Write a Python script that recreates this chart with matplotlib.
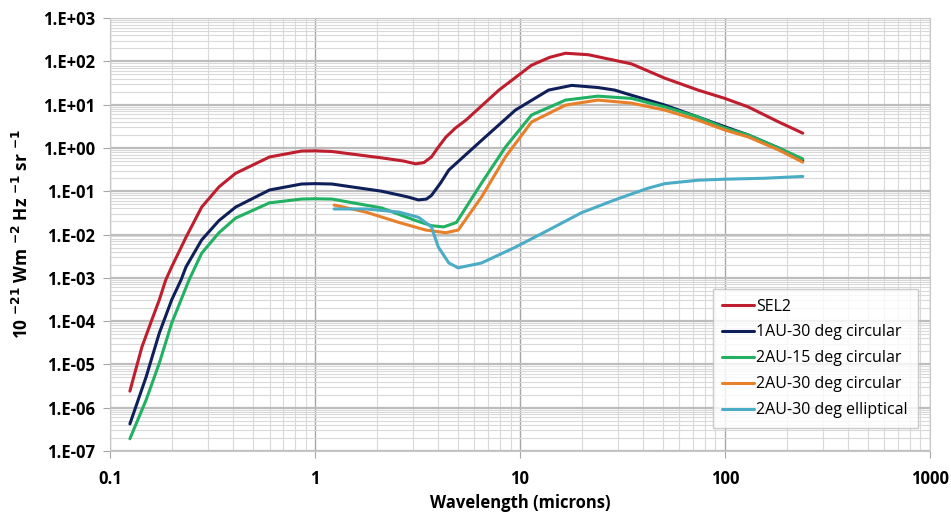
import numpy as np
import matplotlib.pyplot as plt
from matplotlib.ticker import LogLocator, FixedLocator, FuncFormatter, NullFormatter

# Wavelength (microns) and radiance values
sel2_x = [0.125, 0.143, 0.16, 0.174, 0.187, 0.2, 0.235, 0.28, 0.34, 0.41, 0.6, 0.86, 1.0, 1.21,
          2.12, 2.7, 3.1, 3.4, 3.7, 4.0, 4.35, 4.85, 5.45, 7.9, 11.4, 14, 16.7, 21.6, 35, 51,
          74, 100, 130, 183, 240]
sel2_y = [2.4e-6, 2.5e-5, 1.07e-4, 3.1e-4, 8.9e-4, 1.8e-3, 8.7e-3, 0.043, 0.126, 0.26, 0.62, 0.85,
          0.86, 0.83, 0.59, 0.5, 0.43, 0.46, 0.62, 1.05, 1.78, 2.9, 4.4, 21.8, 82, 125, 155, 143,
          88, 41, 21.8, 14, 8.9, 4.0, 2.2]

au1_30c_x = [0.125, 0.15, 0.174, 0.2, 0.222, 0.235, 0.28, 0.34, 0.41, 0.6, 0.86, 1.0, 1.21,
             2.12, 2.8, 3.2, 3.5, 3.7, 4.1, 4.5, 6.5, 9.5, 13.8, 17.9, 24, 29, 35, 51, 74,
             100, 130, 183, 240]
au1_30c_y = [4.2e-7, 5.1e-6, 5.3e-5, 3.1e-4, 8.9e-4, 1.8e-3, 7.5e-3, 0.021, 0.043, 0.107, 0.147,
             0.15, 0.147, 0.10, 0.075, 0.063, 0.066, 0.08, 0.155, 0.31, 1.5, 7.5, 21.8, 28, 25,
             21.8, 16.6, 9.8, 5.2, 3.1, 2.0, 1.0, 0.52]

au2_15c_x = [0.125, 0.15, 0.174, 0.2, 0.243, 0.28, 0.34, 0.41, 0.6, 0.86, 1.0, 1.21, 2.12,
             3.1, 3.7, 4.25, 4.9, 6.5, 8.5, 11.4, 16.7, 24, 35, 51, 74, 100, 130, 183, 240]
au2_15c_y = [1.9e-7, 1.5e-6, 1.07e-5, 9e-5, 8.9e-4, 3.7e-3, 0.011, 0.024, 0.054, 0.066, 0.067,
             0.066, 0.041, 0.021, 0.016, 0.015, 0.019, 0.155, 1.05, 5.8, 12.8, 15.8, 14, 8.9,
             5.2, 2.9, 2.0, 1.0, 0.56]

au2_30c_x = [1.24, 1.77, 2.57, 3.47, 4.35, 5.0, 6.5, 8.5, 11.4, 16.7, 24, 35, 51, 74, 100,
             130, 183, 240]
au2_30c_y = [0.048, 0.033, 0.019, 0.0127, 0.011, 0.0127, 0.074, 0.62, 4.0, 9.8, 12.8, 10.9, 7.5,
             4.4, 2.6, 1.8, 0.9, 0.47]

au2_30e_x = [1.24, 1.77, 2.57, 3.2, 3.7, 4.0, 4.5, 5.0, 6.5, 9.5, 13.8, 20, 29, 42, 51, 74,
             100, 157, 240]
au2_30e_y = [0.039, 0.039, 0.033, 0.025, 0.015, 0.0051, 0.0022, 0.0017, 0.0022, 0.0051, 0.0127,
             0.032, 0.063, 0.117, 0.15, 0.18, 0.19, 0.2, 0.22]

series = [
    ("SEL2", sel2_x, sel2_y, "#BE1E2D"),
    ("1AU-30 deg circular", au1_30c_x, au1_30c_y, "#0F1F5A"),
    ("2AU-15 deg circular", au2_15c_x, au2_15c_y, "#22B063"),
    ("2AU-30 deg circular", au2_30c_x, au2_30c_y, "#E8802A"),
    ("2AU-30 deg elliptical", au2_30e_x, au2_30e_y, "#4BACC6"),
]

plt.rcParams["font.family"] = ["Open Sans", "DejaVu Sans"]

fig = plt.figure(figsize=(9.51, 5.20), dpi=100)
ax = fig.add_axes([0.1157, 0.133, 0.862, 0.832])

for name, xs, ys, col in series:
    ax.plot(xs, ys, color=col, lw=2.2, label=name, solid_capstyle="round", solid_joinstyle="round")

ax.set_xscale("log")
ax.set_yscale("log")
ax.set_xlim(0.1, 1000)
ax.set_ylim(1e-7, 1e3)

ax.xaxis.set_major_locator(FixedLocator([0.1, 1, 10, 100, 1000]))
ax.xaxis.set_minor_locator(LogLocator(base=10, subs=np.arange(2, 10)))
ax.yaxis.set_major_locator(FixedLocator([10.0 ** k for k in range(-7, 4)]))
ax.yaxis.set_minor_locator(LogLocator(base=10, subs=np.arange(2, 10), numticks=20))
ax.xaxis.set_major_formatter(FuncFormatter(lambda v, p: ("%g" % v)))
ax.yaxis.set_major_formatter(FuncFormatter(lambda v, p: "1.E%+03d" % int(round(np.log10(v)))))
ax.xaxis.set_minor_formatter(NullFormatter())
ax.yaxis.set_minor_formatter(NullFormatter())

ax.grid(True, which="major", axis="x", color="#A6A6A6", lw=1.0)
ax.grid(True, which="major", axis="y", color="#BDBDBD", lw=1.6)
ax.grid(True, which="minor", color="#D9D9D9", lw=0.8)
ax.set_axisbelow(True)

for s in ax.spines.values():
    s.set_color("#C8C8C8")
ax.tick_params(which="major", length=5, color="#A6A6A6", labelsize=12)
ax.tick_params(axis="x", which="major", pad=9)
ax.tick_params(axis="y", which="major", pad=6)
ax.tick_params(which="minor", length=0)
for lbl in ax.get_xticklabels() + ax.get_yticklabels():
    lbl.set_fontweight("bold")

ax.set_xlabel("Wavelength (microns)", fontsize=12, fontweight="bold", labelpad=4)
ax.set_ylabel(r"10 $^{\mathbf{-21}}$ Wm $^{\mathbf{-2}}$ Hz $^{\mathbf{-1}}$ sr $^{\mathbf{-1}}$",
              fontsize=12.5, fontweight="bold", labelpad=8)

leg = ax.legend(loc="lower right", bbox_to_anchor=(0.995, 0.035), fontsize=11.5,
                frameon=True, fancybox=False, edgecolor="#BFBFBF", handlelength=2.0,
                handletextpad=0.15, labelspacing=0.62, borderpad=0.6)
leg.get_frame().set_linewidth(1.0)

fig.savefig("out.png", dpi=100)
